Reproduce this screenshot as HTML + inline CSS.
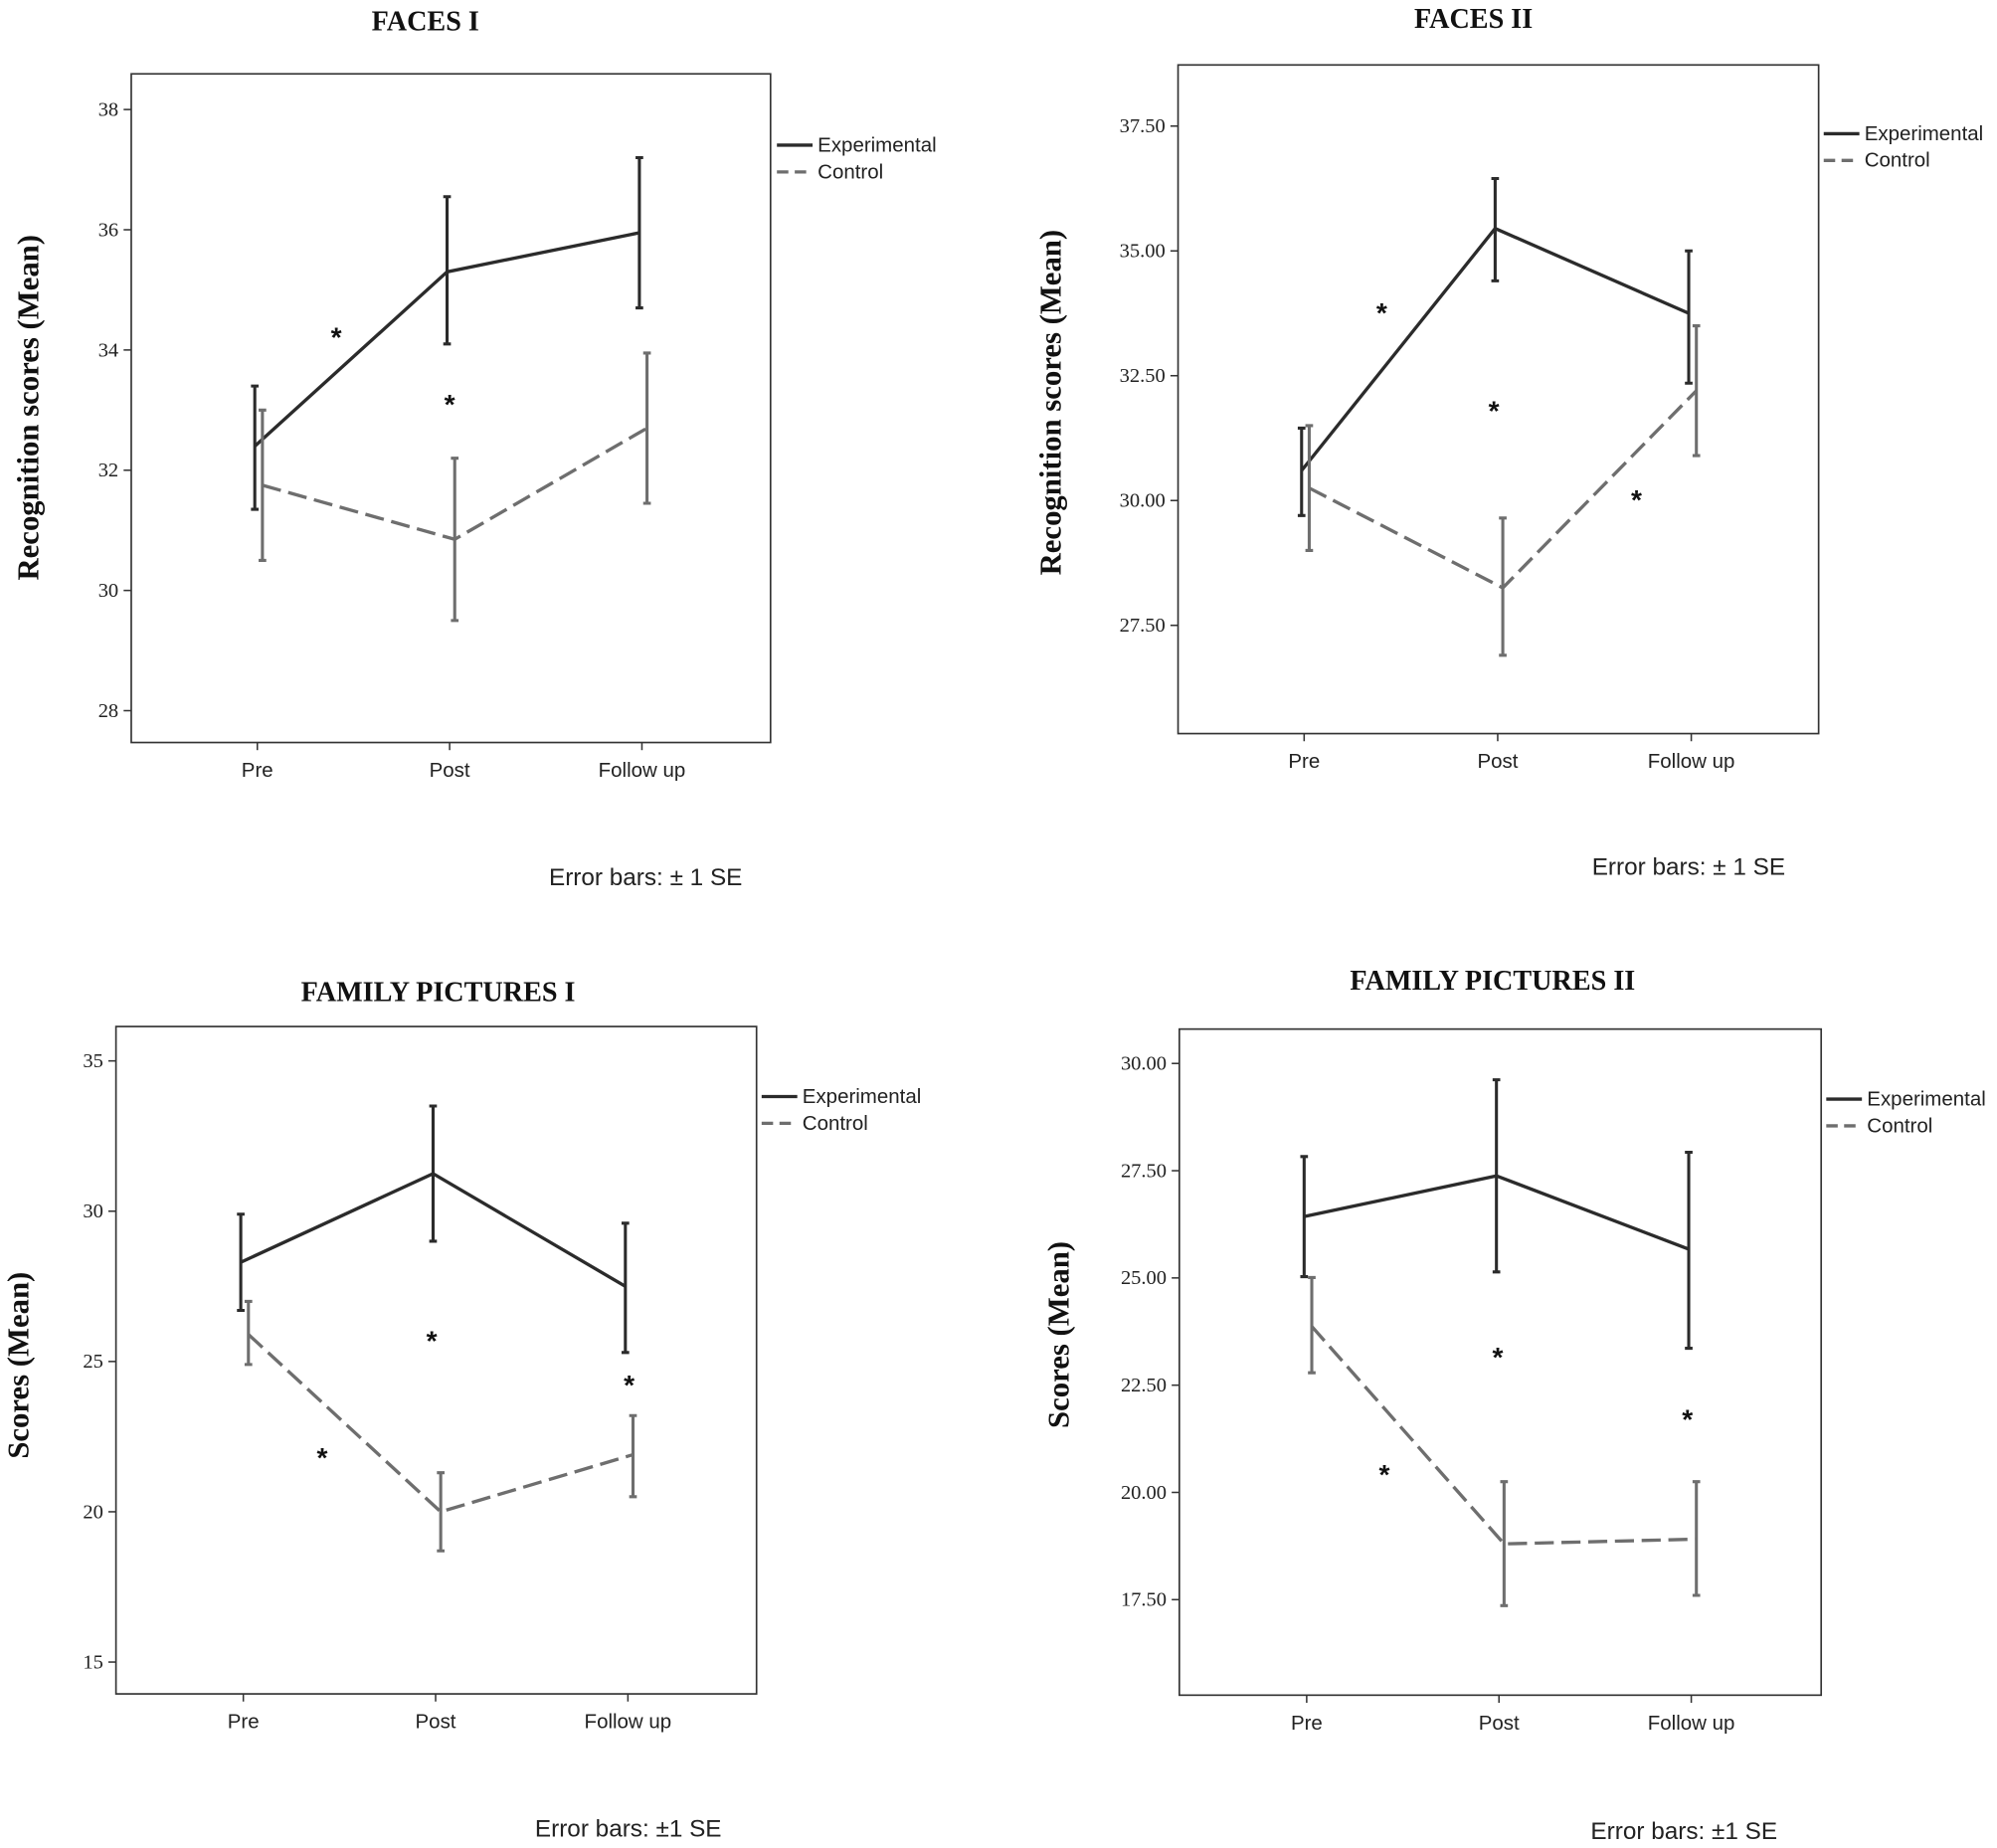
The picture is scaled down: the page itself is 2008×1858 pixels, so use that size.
<!DOCTYPE html>
<html><head><meta charset="utf-8">
<style>
html,body{margin:0;padding:0;background:#fff;}
svg{display:block;}
.t{font-family:"Liberation Serif",serif;font-weight:bold;font-size:22px;fill:#111;}
.yt{font-family:"Liberation Serif",serif;font-weight:bold;font-size:24px;fill:#111;}
.tick{font-family:"Liberation Serif",serif;font-size:16px;fill:#222;}
.cat{font-family:"Liberation Sans",sans-serif;font-size:16px;fill:#222;}
.leg{font-family:"Liberation Sans",sans-serif;font-size:16px;fill:#222;}
.eb{font-family:"Liberation Sans",sans-serif;font-size:19px;fill:#222;}
.ast{font-family:"Liberation Sans",sans-serif;font-size:22px;font-weight:bold;fill:#111;}
</style></head>
<body>
<svg id="fig" width="2008" height="1858" viewBox="0 0 1568 1451" xmlns="http://www.w3.org/2000/svg"></svg>
<script>
const categories = ["Pre","Post","Follow up"];
// FACES I
const f1Ticks = [28,30,32,34,36,38];
const f1TickLabels = ["28","30","32","34","36","38"];
const f1Exp = [32.4,35.3,35.95];
const f1ExpLo = [31.35,34.1,34.7];
const f1ExpHi = [33.4,36.55,37.2];
const f1Ctl = [31.75,30.85,32.7];
const f1CtlLo = [30.5,29.5,31.45];
const f1CtlHi = [33.0,32.2,33.95];
// FACES II
const f2Ticks = [27.5,30,32.5,35,37.5];
const f2TickLabels = ["27.50","30.00","32.50","35.00","37.50"];
const f2Exp = [30.6,35.45,33.75];
const f2ExpLo = [29.7,34.4,32.35];
const f2ExpHi = [31.45,36.45,35.0];
const f2Ctl = [30.25,28.25,32.2];
const f2CtlLo = [29.0,26.9,30.9];
const f2CtlHi = [31.5,29.65,33.5];
// FAMILY PICTURES I
const p1Ticks = [15,20,25,30,35];
const p1TickLabels = ["15","20","25","30","35"];
const p1Exp = [28.3,31.25,27.5];
const p1ExpLo = [26.7,29.0,25.3];
const p1ExpHi = [29.9,33.5,29.6];
const p1Ctl = [25.9,20.0,21.9];
const p1CtlLo = [24.9,18.7,20.5];
const p1CtlHi = [27.0,21.3,23.2];
// FAMILY PICTURES II
const p2Ticks = [17.5,20,22.5,25,27.5,30];
const p2TickLabels = ["17.50","20.00","22.50","25.00","27.50","30.00"];
const p2Exp = [26.43,27.38,25.67];
const p2ExpLo = [25.03,25.14,23.36];
const p2ExpHi = [27.83,29.62,27.93];
const p2Ctl = [23.87,18.8,18.91];
const p2CtlLo = [22.79,17.36,17.6];
const p2CtlHi = [25.01,20.25,20.25];

const NS="http://www.w3.org/2000/svg";
const svg=document.getElementById('fig');
function mk(tag,attrs,parent,text){const e=document.createElementNS(NS,tag);for(const k in attrs)e.setAttribute(k,attrs[k]);if(text!==undefined)e.textContent=text;(parent||svg).appendChild(e);return e;}

function chart(c){
  const g=mk('g',{});
  
  
  const yScale=v=>c.y0+(v-c.v0)*(c.y1-c.y0)/(c.v1-c.v0);
  const xScale=i=>c.xs[0]+i*(c.xs[1]-c.xs[0]);
  const tt=mk('text',{x:c.tx,y:c.ty,'text-anchor':'middle',class:'t'},g,c.title);
  
  
  const fr=mk('rect',{x:c.fx0,y:c.fy0,width:c.fx1-c.fx0,height:c.fy1-c.fy0,fill:'none',stroke:'#333','stroke-width':1.3},g);
  
  
  c.ticks.forEach((v,i)=>{
    const y=yScale(v);
    mk('line',{x1:c.fx0-6,x2:c.fx0,y1:y,y2:y,stroke:'#333','stroke-width':1.2},g);
    const tl=mk('text',{x:c.fx0-10,y:y+5,'text-anchor':'end',class:'tick'},g,c.tickLabels[i]);
    
    
  });
  categories.forEach((cat,i)=>{
    const x=xScale(i);
    mk('line',{x1:x,x2:x,y1:c.fy1,y2:c.fy1+6,stroke:'#333','stroke-width':1.2},g);
    const cl=mk('text',{x:x,y:c.fy1+27,'text-anchor':'middle',class:'cat'},g,cat);
    
    
  });
  const yt=mk('text',{x:0,y:0,'text-anchor':'middle',class:'yt',transform:`translate(${c.yx},${c.yy}) rotate(-90)`},g,c.yTitle);
  
  
  const series=[
    {name:'experimental',m:c.exp,lo:c.expLo,hi:c.expHi,col:'#2b2b2b',dx:-2,dash:null},
    {name:'control',m:c.ctl,lo:c.ctlLo,hi:c.ctlHi,col:'#6e6e6e',dx:4,dash:'15,6'}
  ];
  series.forEach(s=>{
    const pts=s.m.map((v,i)=>[xScale(i)+s.dx,yScale(v)]);
    const pl=mk('polyline',{points:pts.map(p=>p.join(',')).join(' '),fill:'none',stroke:s.col,'stroke-width':2.6},g);
    if(s.dash)pl.setAttribute('stroke-dasharray',s.dash);
    
    
    s.m.forEach((v,i)=>{
      const x=xScale(i)+s.dx, ylo=yScale(s.lo[i]), yhi=yScale(s.hi[i]);
      const eb=mk('path',{d:`M${x},${ylo}V${yhi}M${x-3},${ylo}H${x+3}M${x-3},${yhi}H${x+3}`,fill:'none',stroke:s.col,'stroke-width':2.4},g);
      
      
    });
  });
  c.ast.forEach(a=>{
    const t=mk('text',{x:a[0],y:a[1]+10,'text-anchor':'middle',class:'ast'},g,'*');
    
    
  });
  const lg=mk('g',{},g);
  
  
  mk('line',{x1:c.lx,x2:c.lx+28,y1:c.ly,y2:c.ly,stroke:'#2b2b2b','stroke-width':2.6},lg);
  mk('text',{x:c.lx+32,y:c.ly+5,class:'leg'},lg,'Experimental');
  mk('line',{x1:c.lx,x2:c.lx+28,y1:c.ly+21,y2:c.ly+21,stroke:'#6e6e6e','stroke-width':2.6,'stroke-dasharray':'9,5'},lg);
  mk('text',{x:c.lx+32,y:c.ly+26,class:'leg'},lg,'Control');
  const et=mk('text',{x:c.ex,y:c.ey+6,class:'eb'},g,c.ebText);
  
  
}

chart({name:'faces-i-chart',title:'FACES I',tx:334,ty:24,fx0:103,fx1:605,fy0:58,fy1:583,
  v0:38,y0:86,v1:28,y1:558,xs:[202,353],ticks:f1Ticks,tickLabels:f1TickLabels,
  yTitle:'Recognition scores (Mean)',yx:30,yy:320,exp:f1Exp,expLo:f1ExpLo,expHi:f1ExpHi,ctl:f1Ctl,ctlLo:f1CtlLo,ctlHi:f1CtlHi,
  ast:[[264,262],[353,315]],lx:610,ly:114,ex:431,ey:689,ebText:'Error bars: ± 1 SE'});
chart({name:'faces-ii-chart',title:'FACES II',tx:1157,ty:22,fx0:925,fx1:1428,fy0:51,fy1:576,
  v0:37.5,y0:99,v1:27.5,y1:491,xs:[1024,1176],ticks:f2Ticks,tickLabels:f2TickLabels,
  yTitle:'Recognition scores (Mean)',yx:833,yy:316,exp:f2Exp,expLo:f2ExpLo,expHi:f2ExpHi,ctl:f2Ctl,ctlLo:f2CtlLo,ctlHi:f2CtlHi,
  ast:[[1085,243],[1173,320],[1285,390]],lx:1432,ly:105,ex:1250,ey:681,ebText:'Error bars: ± 1 SE'});
chart({name:'family-pictures-i-chart',title:'FAMILY PICTURES I',tx:344,ty:786,fx0:91,fx1:594,fy0:806,fy1:1330,
  v0:35,y0:833,v1:15,y1:1305,xs:[191,342],ticks:p1Ticks,tickLabels:p1TickLabels,
  yTitle:'Scores (Mean)',yx:22,yy:1072,exp:p1Exp,expLo:p1ExpLo,expHi:p1ExpHi,ctl:p1Ctl,ctlLo:p1CtlLo,ctlHi:p1CtlHi,
  ast:[[253,1142],[339,1050],[494,1085]],lx:598,ly:861,ex:420,ey:1436,ebText:'Error bars: ±1 SE'});
chart({name:'family-pictures-ii-chart',title:'FAMILY PICTURES II',tx:1172,ty:777,fx0:926,fx1:1430,fy0:808,fy1:1331,
  v0:30,y0:835,v1:17.5,y1:1256,xs:[1026,1177],ticks:p2Ticks,tickLabels:p2TickLabels,
  yTitle:'Scores (Mean)',yx:839,yy:1048,exp:p2Exp,expLo:p2ExpLo,expHi:p2ExpHi,ctl:p2Ctl,ctlLo:p2CtlLo,ctlHi:p2CtlHi,
  ast:[[1087,1155],[1176,1063],[1325,1112]],lx:1434,ly:863,ex:1249,ey:1438,ebText:'Error bars: ±1 SE'});
</script>
</body></html>
